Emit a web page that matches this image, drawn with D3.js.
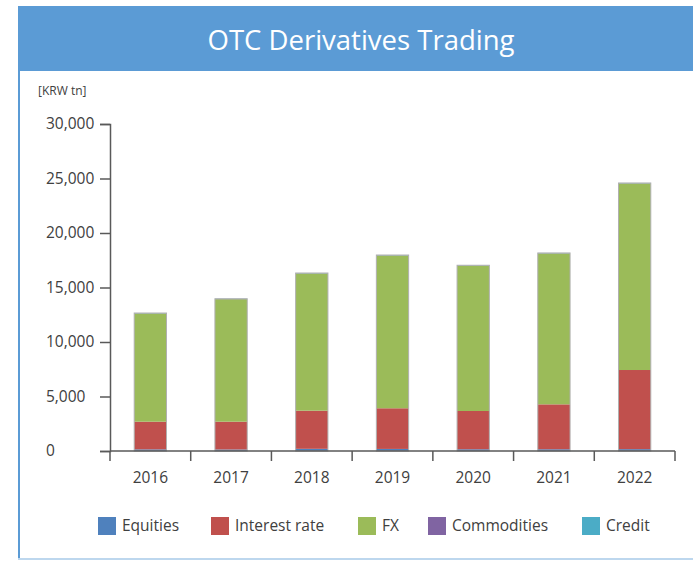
<!DOCTYPE html>
<html>
<head>
<meta charset="utf-8">
<script src="https://cdn.jsdelivr.net/npm/d3@7"></script>
<style>
  body { margin: 0; background: #fff; }
  svg { display: block; font-family: "Open Sans", sans-serif; }
</style>
</head>
<body>
<svg id="chart" width="693" height="561"></svg>
<script>
// chart data
const years = ['2016', '2017', '2018', '2019', '2020', '2021', '2022'];
const seriesNames = ['Equities', 'Interest rate', 'FX', 'Commodities', 'Credit'];
const equities = [150, 140, 200, 190, 160, 160, 170];
const interestRate = [2540, 2550, 3500, 3730, 3510, 4120, 7260];
const fx = [9930, 11240, 12590, 14020, 13330, 13850, 17120];
const commodities = [20, 20, 20, 20, 20, 20, 20];
const credit = [20, 20, 20, 20, 20, 20, 20];
const yTicks = [0, 5000, 10000, 15000, 20000, 25000, 30000];

const colors = ['#4F81BD', '#C0504D', '#9BBB59', '#8064A2', '#4BACC6'];
const textColor = '#404040';
const axisColor = '#595959';

const svg = d3.select('#chart');

// frame + header
svg.append('rect')
  .attr('x', 18).attr('y', 6).attr('width', 675).attr('height', 65)
  .attr('fill', '#5B9BD5');
svg.append('line')
  .attr('x1', 19).attr('x2', 19).attr('y1', 71).attr('y2', 559)
  .attr('stroke', '#5B9BD5').attr('stroke-width', 2);
svg.append('line')
  .attr('x1', 18).attr('x2', 693).attr('y1', 559).attr('y2', 559)
  .attr('stroke', '#BDD7EE').attr('stroke-width', 2);
svg.append('text')
  .attr('x', 361).attr('y', 50)
  .attr('text-anchor', 'middle')
  .attr('fill', '#fff')
  .attr('font-size', 27.5)
  .text('OTC Derivatives Trading');

// unit label
svg.append('text')
  .attr('x', 38).attr('y', 95)
  .attr('fill', textColor)
  .attr('font-size', 12)
  .text('[KRW tn]');

// build rows for the stack
const rows = years.map((yr, i) => ({
  year: yr,
  'Equities': equities[i],
  'Interest rate': interestRate[i],
  'FX': fx[i],
  'Commodities': commodities[i],
  'Credit': credit[i]
}));
const stacked = d3.stack().keys(seriesNames)(rows);

const x = d3.scaleBand()
  .domain(years)
  .range([110, 675])
  .paddingInner(0.6)
  .paddingOuter(0.3);

const y = d3.scaleLinear()
  .domain([0, 30000])
  .range([451, 124]);

const color = d3.scaleOrdinal().domain(seriesNames).range(colors);

// bars
svg.append('g')
  .selectAll('g')
  .data(stacked)
  .join('g')
  .attr('fill', d => color(d.key))
  .selectAll('rect')
  .data(d => d)
  .join('rect')
  .attr('x', d => x(d.data.year))
  .attr('y', d => y(d[1]))
  .attr('width', x.bandwidth())
  .attr('height', d => y(d[0]) - y(d[1]));

// light outline around each bar
svg.append('g')
  .selectAll('rect')
  .data(rows)
  .join('rect')
  .attr('x', d => x(d.year))
  .attr('y', (d, i) => y(stacked[stacked.length - 1][i][1]))
  .attr('width', x.bandwidth())
  .attr('height', (d, i) => y(0) - y(stacked[stacked.length - 1][i][1]))
  .attr('fill', 'none')
  .attr('stroke', '#b0b0b0')
  .attr('stroke-width', 1);

// y axis
const yAxis = svg.append('g')
  .attr('transform', 'translate(110,0)')
  .call(d3.axisLeft(y).tickValues(yTicks).tickSize(10).tickFormat(d3.format(',')));
yAxis.select('.domain').attr('stroke', axisColor).attr('stroke-width', 1.5);
yAxis.selectAll('.tick line').attr('stroke', axisColor).attr('stroke-width', 1.5);
yAxis.selectAll('.tick text')
  .attr('x', -64)
  .attr('text-anchor', 'start')
  .attr('fill', textColor)
  .attr('font-size', 15.5)
  .attr('font-family', '"Open Sans", sans-serif');

// x axis line and category boundary ticks
const step = x.step();
const bounds = years.map(yr => x(yr) - step * 0.3).concat([x.range()[1]]);
svg.append('line')
  .attr('x1', 110).attr('x2', 675)
  .attr('y1', y(0)).attr('y2', y(0))
  .attr('stroke', axisColor).attr('stroke-width', 1.5);
svg.append('g')
  .selectAll('line')
  .data(bounds)
  .join('line')
  .attr('x1', d => d).attr('x2', d => d)
  .attr('y1', y(0)).attr('y2', y(0) + 10)
  .attr('stroke', axisColor).attr('stroke-width', 1.5);
svg.append('g')
  .selectAll('text')
  .data(years)
  .join('text')
  .attr('x', d => x(d) + x.bandwidth() / 2)
  .attr('y', 483)
  .attr('text-anchor', 'middle')
  .attr('fill', textColor)
  .attr('font-size', 15.5)
  .text(d => d);

// legend
const legendX = [98, 211, 358, 428, 582];
const legend = svg.append('g')
  .selectAll('g')
  .data(seriesNames)
  .join('g')
  .attr('transform', (d, i) => `translate(${legendX[i]},517)`);
legend.append('rect')
  .attr('width', 18).attr('height', 18)
  .attr('fill', d => color(d));
legend.append('text')
  .attr('x', 24).attr('y', 14)
  .attr('fill', textColor)
  .attr('font-size', 15.5)
  .text(d => d);
</script>
</body>
</html>
